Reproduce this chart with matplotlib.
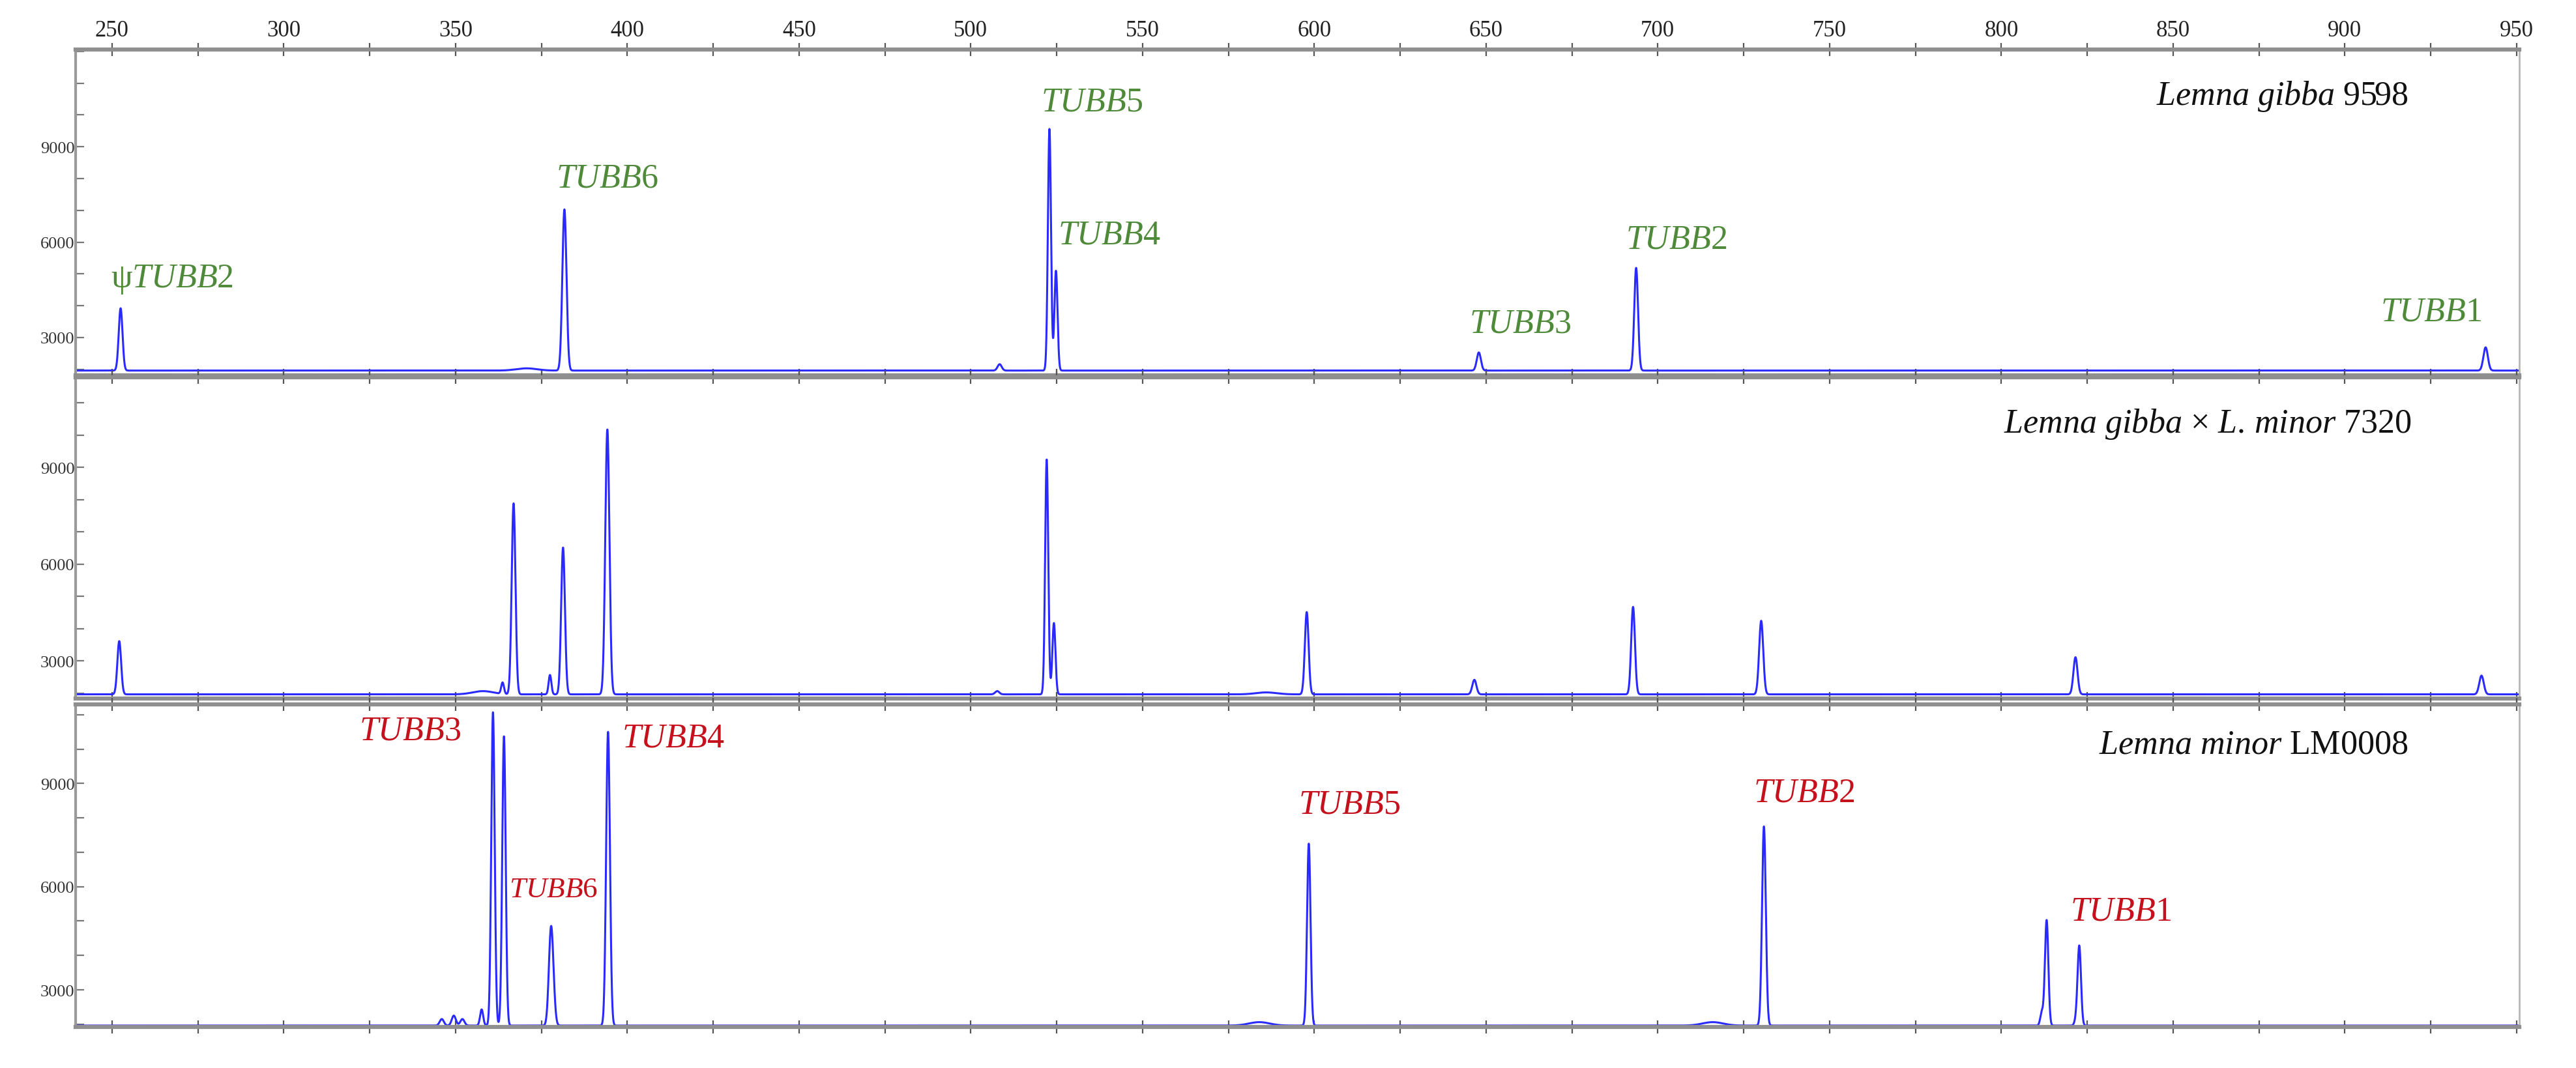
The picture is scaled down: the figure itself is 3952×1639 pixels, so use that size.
import numpy as np
import matplotlib
matplotlib.use('Agg')
import matplotlib.pyplot as plt
from matplotlib.ticker import MultipleLocator, FixedLocator

plt.rcParams['font.family'] = ['Liberation Serif', 'DejaVu Serif']
plt.rcParams['mathtext.fontset'] = 'custom'
plt.rcParams['mathtext.rm'] = 'Liberation Serif'
plt.rcParams['mathtext.it'] = 'Liberation Serif:italic'
plt.rcParams['mathtext.bf'] = 'Liberation Serif:bold'

# ---------------- data ----------------
x_range = (239.4, 950.8)          # fragment size (bp)
baseline = 1960

# Panel 1: Lemna gibba 9598
p1_pos = [252.5, 370.7, 381.7, 508.4, 522.9, 524.8, 647.9, 693.7, 941.0]
p1_apex = [3920, 2030, 7030, 2160, 9560, 5100, 2530, 5190, 2690]
p1_sigma = [0.55, 3.0, 0.6, 0.6, 0.45, 0.45, 0.6, 0.55, 0.65]

# Panel 2: Lemna gibba x L. minor 7320
p2_pos = [252.1, 358.0, 363.7, 366.9, 377.5, 381.3, 394.2, 507.7, 522.1, 524.2,
          586.0, 597.8, 646.6, 692.8, 730.1, 821.6, 939.8]
p2_apex = [3610, 2060, 2330, 7880, 2560, 6510, 10170, 2060, 9240, 4170,
           2020, 4510, 2410, 4670, 4240, 3110, 2540]
p2_sigma = [0.55, 3.0, 0.4, 0.55, 0.4, 0.55, 0.6, 0.6, 0.45, 0.45,
            3.0, 0.55, 0.6, 0.55, 0.6, 0.6, 0.65]

# Panel 3: Lemna minor LM0008
p3_pos = [346.0, 349.5, 352.0, 357.6, 360.9, 364.1, 377.7, 378.3, 394.4,
          584.0, 598.4, 716.0, 730.9, 811.8, 813.2, 821.7, 822.7]
p3_apex = [2150, 2250, 2150, 2430, 11070, 10370, 4790, 4260, 10500,
           2060, 7250, 2060, 7750, 2400, 5030, 2400, 4290]
p3_sigma = [0.6, 0.6, 0.6, 0.45, 0.5, 0.5, 0.6, 0.6, 0.55,
            3.0, 0.5, 3.0, 0.55, 0.45, 0.5, 0.45, 0.5]

panel_titles = [r'$\mathit{Lemna\ gibba}\ \mathrm{9598}$',
                r'$\mathit{Lemna\ gibba}\ \mathrm{\times}\ \mathit{L.\,minor}\ \mathrm{7320}$',
                r'$\mathit{Lemna\ minor}\ \mathrm{LM0008}$']
title_anchor = [(918.5, 10330), (919.3, 10090), (918.5, 9892)]

p1_labels = ['ψ|2', '|6', '|5', '|4', '|3', '|2', '|1']
p1_label_xy = [(249.6, 4594), (379.2, 7750), (520.4, 10150), (525.3, 5967),
               (645.1, 3180), (690.6, 5824), (910.3, 3549)]
p3_labels = ['|3', '|4', '|6', '|5', '|2', '|1']
p3_label_xy = [(321.9, 10290), (398.4, 10080), (365.6, 5717), (595.4, 8146),
               (727.8, 8488), (820.0, 5034)]
p3_label_small = [False, False, True, False, False, False]

ylims = [(1810, 12060), (1830, 11790), (1920, 11300)]
y_major = [3000, 6000, 9000]
x_label_ticks = list(range(250, 951, 50))

# ---------------- styling ----------------
W, H = 3952, 1640
fig = plt.figure(figsize=(W / 100, H / 100), dpi=100)
left, right = 116 / W, 3865 / W
panel_px = [(77, 577), (580, 1073), (1082, 1577)]
trace_color = '#2a2aff'
green = '#4f8a3a'
red = '#c4111c'
frame = '#8f8f8f'


def gene_label(code):
    pre, num = code.split('|')
    s = '$'
    if pre:
        s += r'\mathrm{' + pre + '}'
    s += r'\mathit{TUBB}\mathrm{' + num + '}$'
    return s


def trace(x, pos, apex, sig, base):
    pos = np.asarray(pos, float)
    apex = np.asarray(apex, float)
    sig = np.asarray(sig, float)
    G = np.exp(-(pos[:, None] - pos[None, :]) ** 2 / (2 * sig[None, :] ** 2))
    amp = np.linalg.solve(G, apex - base)
    y = base + (amp[None, :] * np.exp(-(x[:, None] - pos[None, :]) ** 2 /
                                       (2 * sig[None, :] ** 2))).sum(axis=1)
    return y


x = np.arange(x_range[0], x_range[1], 0.02)
series = [(p1_pos, p1_apex, p1_sigma), (p2_pos, p2_apex, p2_sigma), (p3_pos, p3_apex, p3_sigma)]

axes = []
for i, ((top, bot), (pos, apex, sig)) in enumerate(zip(panel_px, series)):
    ax = fig.add_axes([left, 1 - bot / H, right - left, (bot - top) / H])
    axes.append(ax)
    y = trace(x, pos, apex, sig, baseline)
    ax.plot(x, y, color=trace_color, lw=2.2, solid_joinstyle='round')
    ax.set_xlim(*x_range)
    ax.set_ylim(*ylims[i])

    for side in ['top', 'bottom']:
        ax.spines[side].set_color(frame)
        ax.spines[side].set_linewidth(4.5)
    ax.spines['left'].set_color('#9a9a9a')
    ax.spines['left'].set_linewidth(3)
    ax.spines['right'].set_color('#b8b8b8')
    ax.spines['right'].set_linewidth(2)

    ax.xaxis.set_major_locator(FixedLocator(x_label_ticks))
    ax.xaxis.set_minor_locator(MultipleLocator(25))
    ax.tick_params(axis='x', which='both', top=True, bottom=True,
                   direction='inout', length=14, width=1.6, color='#555555',
                   labelbottom=False, labeltop=(i == 0), labelsize=25,
                   labelcolor='#222222', pad=2)
    ax.yaxis.set_major_locator(FixedLocator(y_major))
    ax.yaxis.set_minor_locator(MultipleLocator(1000))
    ax.tick_params(axis='y', which='both', left=True, right=False,
                   direction='in', length=9, width=1.6, color='#777777',
                   labelsize=19, labelcolor='#333333', pad=1)
    ax.yaxis.set_major_formatter(matplotlib.ticker.FuncFormatter(lambda v, p: f'{int(v)}'))

    tx, ty = title_anchor[i]
    ax.text(tx, ty, panel_titles[i], ha='right', va='baseline',
            fontsize=37.5, color='#111111')

for code, (lx, ly) in zip(p1_labels, p1_label_xy):
    axes[0].text(lx, ly, gene_label(code), ha='left', va='baseline',
                 fontsize=37.5, color=green)

for code, (lx, ly), small in zip(p3_labels, p3_label_xy, p3_label_small):
    axes[2].text(lx, ly, gene_label(code), ha='left', va='baseline',
                 fontsize=32.5 if small else 37.5, color=red)

fig.savefig('out.png', dpi=100, facecolor='white')
